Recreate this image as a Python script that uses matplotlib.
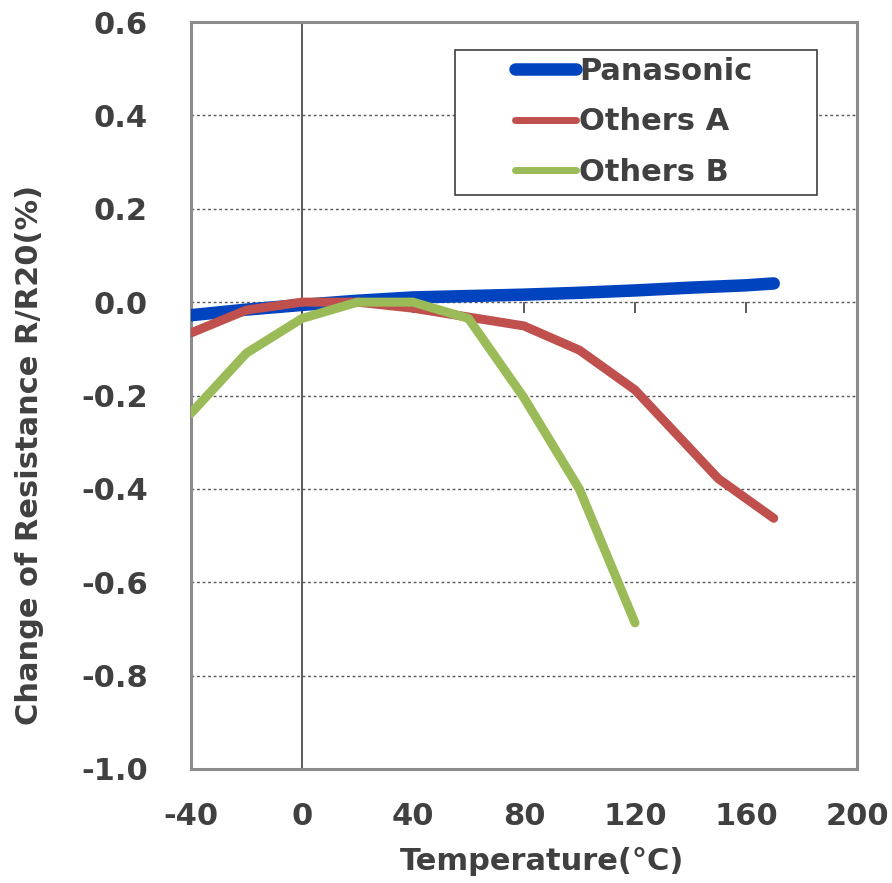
import matplotlib
matplotlib.use("Agg")
import matplotlib.pyplot as plt
from matplotlib.patches import Rectangle

plt.rcParams['font.family'] = ['DejaVu Sans']
plt.rcParams['font.weight'] = 'bold'
plt.rcParams['axes.unicode_minus'] = False

TEXT = '#404040'

# ---- data ----
temp_pana = [-40, -20, 0, 20, 40, 60, 80, 100, 120, 140, 160, 170]
pana = [-0.028, -0.016, -0.006, 0.003, 0.010, 0.013, 0.016, 0.020, 0.025, 0.031, 0.036, 0.040]

temp_a = [-40, -20, 0, 20, 40, 60, 80, 100, 120, 150, 170]
others_a = [-0.066, -0.017, 0.0, 0.0, -0.013, -0.032, -0.051, -0.103, -0.188, -0.378, -0.463]

temp_b = [-40, -20, 0, 20, 40, 60, 80, 100, 120]
others_b = [-0.238, -0.109, -0.035, 0.0, 0.0, -0.035, -0.205, -0.401, -0.687]

x_ticks = [-40, 0, 40, 80, 120, 160, 200]
y_ticks = [0.6, 0.4, 0.2, 0.0, -0.2, -0.4, -0.6, -0.8, -1.0]
series_labels = ['Panasonic', 'Others A', 'Others B']
colors = ['#0043BF', '#C0504D', '#9BBB59']
xlabel = 'Temperature(°C)'
ylabel = 'Change of Resistance R/R20(%)'

xmin, xmax = -40, 200
ymin, ymax = -1.0, 0.6

fig = plt.figure(figsize=(8.92, 8.83), dpi=100)
ax = fig.add_axes([191/892, 1-769/883, (857-191)/892, (769-22)/883])

l1, = ax.plot(temp_pana, pana, color=colors[0], lw=9, solid_capstyle='round',
              solid_joinstyle='round', zorder=3, label=series_labels[0])
l2, = ax.plot(temp_a, others_a, color=colors[1], lw=6.5, solid_capstyle='round',
              solid_joinstyle='round', zorder=4, label=series_labels[1])
l3, = ax.plot(temp_b, others_b, color=colors[2], lw=6.5, solid_capstyle='round',
              solid_joinstyle='round', zorder=5, label=series_labels[2])

ax.set_xlim(xmin, xmax)
ax.set_ylim(ymin, ymax)
ax.set_xticks(x_ticks)
ax.set_yticks(y_ticks)
ax.set_xticklabels([str(t) for t in x_ticks])
ax.set_yticklabels(['%.1f' % t for t in y_ticks])
ax.tick_params(axis='x', length=0, pad=24, labelsize=22, labelcolor=TEXT)
ax.tick_params(axis='y', length=0, pad=31, labelsize=22, labelcolor=TEXT)
for lab in ax.get_xticklabels() + ax.get_yticklabels():
    lab.set_fontweight('bold')

ax.yaxis.grid(True, linestyle=(0, (2, 2)), color='#555555', lw=1.0, zorder=0)
ax.set_axisbelow(True)
for s in ax.spines.values():
    s.set_color('#8C8C8C')
    s.set_linewidth(2.2)

# zero lines
ax.axvline(0, color='#404040', lw=1.2, zorder=1)
sec = ax.secondary_xaxis((0 - ymin) / (ymax - ymin))
sec.set_xticks(x_ticks)
sec.xaxis.set_ticks_position('bottom')
sec.tick_params(axis='x', direction='out', length=8, width=1.2, color='#404040',
                labelbottom=False, labeltop=False)
sec.spines['bottom'].set_color('#404040')
sec.spines['bottom'].set_linewidth(1.2)
sec.spines['top'].set_visible(False)

# axis labels
fig.text(542/892, 1-862/883, xlabel, ha='center', va='center', fontsize=22,
         fontweight='bold', color=TEXT)
fig.text(30/892, 1-455/883, ylabel, ha='center', va='center', fontsize=22,
         fontweight='bold', color=TEXT, rotation=90)

# legend box
box = Rectangle((455/892, 1-195/883), (817-455)/892, (195-50)/883,
                transform=fig.transFigure, facecolor='white',
                edgecolor='#404040', lw=1.2, zorder=8, clip_on=False)
ax.add_patch(box)
leg = ax.legend(handles=[l1, l2, l3], loc='center',
                bbox_to_anchor=(634/892, 1-122/883), bbox_transform=fig.transFigure,
                frameon=False, fontsize=22, handlelength=2.0, handletextpad=0.1,
                labelspacing=0.7, borderpad=0)
leg.set_zorder(10)
for t in leg.get_texts():
    t.set_color(TEXT)
    t.set_fontweight('bold')
leg.legend_handles[1].set_linewidth(5)
leg.legend_handles[2].set_linewidth(5)

fig.savefig('out.png', dpi=100)
